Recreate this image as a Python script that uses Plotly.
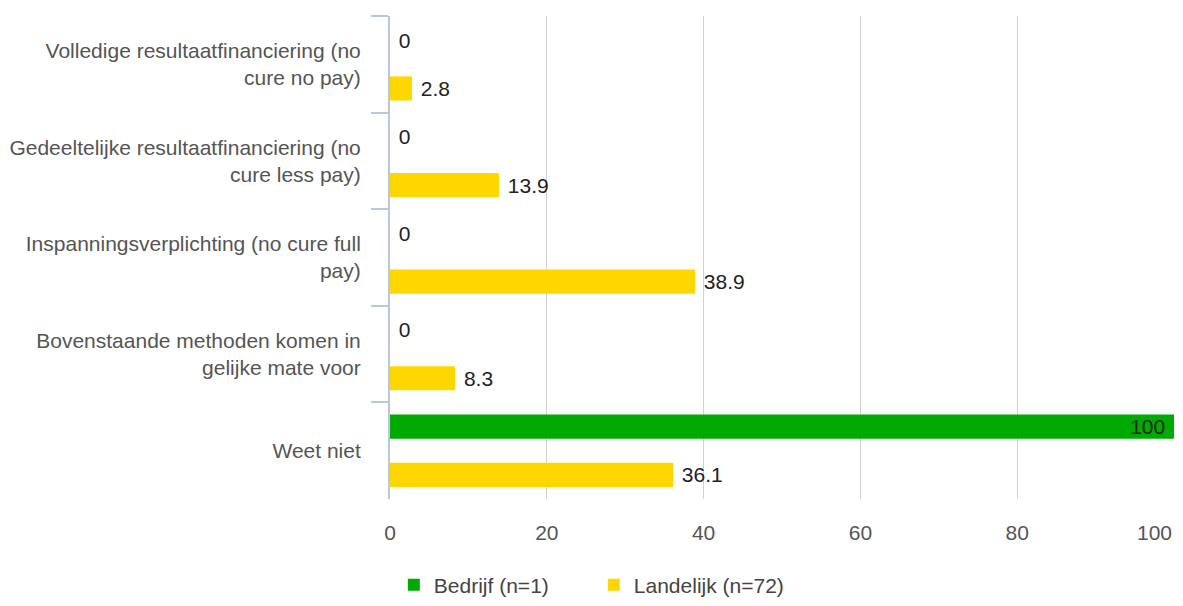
import plotly.graph_objects as go

categories = [
    "Volledige resultaatfinanciering (no<br>cure no pay)",
    "Gedeeltelijke resultaatfinanciering (no<br>cure less pay)",
    "Inspanningsverplichting (no cure full<br>pay)",
    "Bovenstaande methoden komen in<br>gelijke mate voor",
    "Weet niet",
]
bedrijf = [0, 0, 0, 0, 100]
landelijk = [2.8, 13.9, 38.9, 8.3, 36.1]
series_names = ["Bedrijf (n=1)", "Landelijk (n=72)"]
x_ticks = [0, 20, 40, 60, 80, 100]

GREEN = "#00aa00"
YELLOW = "#ffd700"
FONT = "Liberation Sans, Arial, sans-serif"
FS = 21

fig = go.Figure()
fig.add_trace(go.Bar(
    y=categories, x=bedrijf, orientation="h", name=series_names[0],
    marker=dict(color=GREEN, line=dict(width=0)),
    text=["\u00a0" + f"{v:g}" if v < 50 else f"{v:g}" + "\u00a0" for v in bedrijf],
    textposition=["outside" if v < 50 else "inside" for v in bedrijf],
    insidetextanchor="end",
    textfont=dict(family=FONT, size=FS, color="#222222"),
    constraintext="none", cliponaxis=False, textangle=0,
    hoverinfo="x+name",
))
fig.add_trace(go.Bar(
    y=categories, x=landelijk, orientation="h", name=series_names[1],
    marker=dict(color=YELLOW, line=dict(width=0)),
    text=["\u00a0" + f"{v:g}" for v in landelijk],
    textposition="outside",
    textfont=dict(family=FONT, size=FS, color="#222222"),
    constraintext="none", cliponaxis=False, textangle=0,
    hoverinfo="x+name",
))

fig.update_layout(
    width=1167, height=590,
    margin=dict(l=382, r=1, t=8, b=99, autoexpand=False),
    paper_bgcolor="white", plot_bgcolor="white",
    barmode="group", bargap=0.0, bargroupgap=0.5,
    font=dict(family=FONT, size=FS, color="#555555"),
    showlegend=True,
    legend=dict(
        orientation="h", xref="container", yref="container",
        x=0.502, xanchor="center", y=0.022, yanchor="middle",
        font=dict(family=FONT, size=FS, color="#444444"),
        itemwidth=30, entrywidth=155,
    ),
)
fig.update_xaxes(
    range=[0, 100], tickvals=x_ticks,
    ticktext=[str(v) for v in x_ticks[:-1]] + [""],
    showgrid=True, gridcolor="#d0d0d0", gridwidth=1,
    zeroline=False, showline=False, ticks="",
    tickfont=dict(family=FONT, size=FS, color="#555555"),
    ticklabelstandoff=19,
)
fig.add_annotation(
    x=x_ticks[-1], xref="x", y=0, yref="paper", yshift=-33, xshift=0,
    text=str(x_ticks[-1]), showarrow=False, xanchor="right", yanchor="middle",
    font=dict(family=FONT, size=FS, color="#555555"),
)
fig.update_yaxes(
    type="category", range=[4.5, -0.5],
    showgrid=False, zeroline=False,
    showline=True, linecolor="#b8c7dc", linewidth=2,
    ticks="outside", tickson="boundaries", ticklen=17, tickcolor="#b8c7dc", tickwidth=2,
    tickfont=dict(family=FONT, size=FS, color="#555555"),
    ticklabelstandoff=23,
)

fig.write_html("out.html")
